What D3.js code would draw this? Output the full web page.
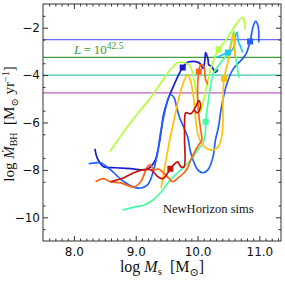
<!DOCTYPE html>
<html>
<head>
<meta charset="utf-8">
<script src="https://cdn.jsdelivr.net/npm/d3@7"></script>
<style>
  body { margin: 0; background: #fff; }
  svg { display: block; }
  .tick text { font-family: "DejaVu Sans", sans-serif; font-size: 12px; fill: #111; }
  .tick line { stroke: #333; }
  .serif { font-family: "Liberation Serif", "DejaVu Serif", serif; fill: #111; }
</style>
</head>
<body>
<div id="container"></div>
<script>
const width = 285;
const height = 282;

// tick values
const xTicks = [8, 9, 10, 11];
const yTicks = [-10, -8, -6, -4, -2];

// luminosity reference lines (log Mdot)
const lumLevels = [-2.5, -3.25, -4.0, -4.75];
const lumColors = ["#6b6bf2", "#3f9f3f", "#45c7b8", "#c45ec4"];

// tracks
const darkBlueX = [8.34, 8.37, 8.42, 8.48, 8.68, 8.92, 9.16, 9.24, 9.32, 9.37, 9.41, 9.45, 9.52, 9.60, 9.68, 9.76, 9.83, 9.89, 9.97, 10.04, 10.09, 10.12, 10.13, 10.17, 10.18, 10.23, 10.26, 10.29, 10.33];
const darkBlueY = [-7.11, -7.45, -7.70, -7.87, -7.91, -7.95, -7.99, -7.87, -7.57, -7.03, -6.39, -5.67, -5.04, -4.53, -4.06, -3.68, -3.47, -3.43, -3.43, -3.51, -3.72, -3.34, -3.05, -3.34, -3.56, -3.64, -3.77, -3.89, -3.77];

const blueX = [8.24, 8.35, 8.43, 8.59, 8.81, 9.03, 9.19, 9.29, 9.36, 9.41, 9.47, 9.53, 9.56, 9.62, 9.66, 9.71, 9.76, 9.84, 9.89, 10.00, 10.09, 10.17, 10.25, 10.29, 10.34, 10.38, 10.46, 10.57, 10.67, 10.78, 10.85, 10.90, 10.94, 10.98, 10.99];
const blueY = [-7.74, -7.70, -7.70, -7.99, -8.50, -8.77, -8.63, -7.99, -7.16, -6.31, -5.55, -4.95, -4.83, -4.95, -5.33, -5.80, -6.10, -6.61, -7.28, -7.99, -8.12, -7.99, -7.45, -6.73, -6.18, -5.46, -4.49, -3.77, -3.47, -3.13, -2.58, -1.94, -1.73, -1.94, -2.62];

const cyanX = [10.30, 10.38, 10.49, 10.54, 10.59, 10.62, 10.64, 10.66, 10.70, 10.73];
const cyanY = [-3.26, -3.17, -3.05, -3.00, -2.79, -2.28, -2.20, -2.58, -2.83, -3.05];

const mintX = [8.79, 8.97, 9.13, 9.28, 9.41, 9.56, 9.73, 9.89, 10.00, 10.09, 10.13, 10.13, 10.17, 10.22, 10.26, 10.33, 10.41, 10.49, 10.57, 10.59, 10.60, 10.65, 10.67];
const mintY = [-9.70, -9.57, -9.49, -9.27, -8.93, -8.42, -8.00, -7.58, -7.16, -6.86, -6.31, -5.97, -5.17, -4.32, -3.89, -3.64, -3.34, -3.13, -2.28, -2.16, -2.92, -3.77, -4.11];

const limeX = [8.58, 8.76, 8.95, 9.24, 9.41, 9.56, 9.68, 9.78, 9.86, 9.92, 9.95, 10.00, 10.02, 10.05, 10.10, 10.17, 10.25, 10.34, 10.43, 10.54, 10.62, 10.73, 10.75, 10.77];
const limeY = [-7.24, -6.56, -5.89, -4.95, -4.32, -3.77, -3.47, -3.47, -3.56, -3.89, -4.32, -4.91, -5.33, -5.55, -5.04, -4.19, -3.43, -2.92, -2.62, -2.20, -1.86, -1.56, -1.65, -2.07];

const goldX = [9.41, 9.49, 9.56, 9.62, 9.68, 9.76, 9.84, 9.89, 9.94, 9.97, 10.02, 10.13, 10.25, 10.33, 10.38, 10.41, 10.41, 10.43, 10.49, 10.54, 10.59, 10.60, 10.60];
const goldY = [-8.77, -7.58, -6.61, -5.89, -5.17, -4.40, -3.98, -4.28, -5.04, -5.89, -6.61, -7.07, -7.16, -7.03, -6.73, -6.10, -5.25, -4.15, -3.47, -2.79, -2.20, -2.71, -3.22];

const orangeX = [8.35, 8.48, 8.59, 8.76, 8.97, 9.08, 9.19, 9.24, 9.29, 9.37, 9.45, 9.53, 9.60, 9.68, 9.78, 9.84, 9.89, 9.97, 10.02, 10.07, 10.05, 10.02, 10.00, 10.02, 10.05, 10.10, 10.13, 10.17];
const orangeY = [-8.50, -8.37, -8.50, -8.55, -8.72, -8.50, -7.87, -7.79, -8.00, -7.96, -8.13, -8.34, -8.50, -8.34, -8.13, -7.91, -7.58, -7.16, -6.94, -6.73, -6.31, -5.67, -4.83, -3.85, -3.56, -3.64, -4.19, -4.40];

const redX = [8.59, 8.81, 8.97, 9.13, 9.24, 9.36, 9.44, 9.52, 9.56, 9.65, 9.68, 9.73, 9.78, 9.79, 9.79, 9.81, 9.89, 9.97, 10.02, 10.05, 10.00, 9.94];
const redY = [-8.50, -8.33, -8.12, -7.99, -7.99, -8.29, -8.37, -8.12, -7.95, -7.70, -7.66, -7.87, -7.87, -6.73, -6.10, -5.59, -5.63, -5.33, -5.08, -5.29, -5.59, -5.46];

// square markers, one per track (same order as the tracks below)
const markerX = [9.76, 10.85, 10.49, 10.13, 10.34, 10.43, 10.02, 9.56];
const markerY = [-3.68, -2.58, -3.05, -5.97, -2.92, -4.15, -3.85, -7.95];

const trackColors = ["#1a1ad2", "#2160ff", "#1ec4ff", "#44ffa2", "#b2ff3a", "#ffc107", "#ff6414", "#c4140e"];
const tracks = [
  [darkBlueX, darkBlueY], [blueX, blueY], [cyanX, cyanY], [mintX, mintY],
  [limeX, limeY], [goldX, goldY], [orangeX, orangeY], [redX, redY]
].map(([xs, ys], i) => ({ pts: xs.map((v, j) => [v, ys[j]]), color: trackColors[i], mx: markerX[i], my: markerY[i] }));

const plotLeft = 43, plotRight = 281, plotTop = 4, plotBottom = 241;

const x = d3.scaleLinear().domain([7.5, 11.35]).range([plotLeft, plotRight]);
const y = d3.scaleLinear().domain([-11, -1]).range([plotBottom, plotTop]);

const svg = d3.select("#container")
  .append("svg")
  .attr("width", width)
  .attr("height", height);

svg.append("clipPath").attr("id", "clip")
  .append("rect")
  .attr("x", plotLeft).attr("y", plotTop)
  .attr("width", plotRight - plotLeft).attr("height", plotBottom - plotTop);

const plot = svg.append("g").attr("clip-path", "url(#clip)");

// horizontal luminosity lines
plot.selectAll("line.lum")
  .data(lumLevels)
  .enter()
  .append("line")
  .attr("class", "lum")
  .attr("x1", plotLeft).attr("x2", plotRight)
  .attr("y1", d => y(d)).attr("y2", d => y(d))
  .attr("stroke", (d, i) => lumColors[i])
  .attr("stroke-width", 1.3);

const line = d3.line()
  .x(d => x(d[0]))
  .y(d => y(d[1]))
  .curve(d3.curveCatmullRom.alpha(0.5));

plot.selectAll("path.track")
  .data(tracks)
  .enter()
  .append("path")
  .attr("class", "track")
  .attr("d", d => line(d.pts))
  .attr("fill", "none")
  .attr("stroke", d => d.color)
  .attr("stroke-width", 1.7)
  .attr("stroke-linejoin", "round");

plot.selectAll("rect.mark")
  .data(tracks)
  .enter()
  .append("rect")
  .attr("class", "mark")
  .attr("x", d => x(d.mx) - 3)
  .attr("y", d => y(d.my) - 3)
  .attr("width", 6)
  .attr("height", 6)
  .attr("fill", d => d.color);

// axes: ticks point inward
const xMinor = d3.range(76, 114).map(v => v / 10).filter(v => v % 1 !== 0);
const yMinor = d3.range(-21, -1).map(v => v / 2).filter(v => v % 1 !== 0);

function styleAxis(g) {
  g.select(".domain").remove();
}

svg.append("g")
  .attr("transform", `translate(0,${plotBottom})`)
  .call(d3.axisBottom(x).tickValues(xTicks).tickSize(-5).tickPadding(6).tickFormat(d3.format(".1f")))
  .call(styleAxis);
svg.append("g")
  .attr("transform", `translate(0,${plotBottom})`)
  .call(d3.axisBottom(x).tickValues(xMinor).tickSize(-2.5).tickFormat(""))
  .call(styleAxis);
svg.append("g")
  .attr("transform", `translate(0,${plotTop})`)
  .call(d3.axisTop(x).tickValues(xTicks).tickSize(-5).tickFormat(""))
  .call(styleAxis);
svg.append("g")
  .attr("transform", `translate(0,${plotTop})`)
  .call(d3.axisTop(x).tickValues(xMinor).tickSize(-2.5).tickFormat(""))
  .call(styleAxis);

svg.append("g")
  .attr("transform", `translate(${plotLeft},0)`)
  .call(d3.axisLeft(y).tickValues(yTicks).tickSize(-5).tickPadding(3).tickFormat(d3.format("d")))
  .call(styleAxis);
svg.append("g")
  .attr("transform", `translate(${plotLeft},0)`)
  .call(d3.axisLeft(y).tickValues(yMinor).tickSize(-2.5).tickFormat(""))
  .call(styleAxis);
svg.append("g")
  .attr("transform", `translate(${plotRight},0)`)
  .call(d3.axisRight(y).tickValues(yTicks).tickSize(-5).tickFormat(""))
  .call(styleAxis);
svg.append("g")
  .attr("transform", `translate(${plotRight},0)`)
  .call(d3.axisRight(y).tickValues(yMinor).tickSize(-2.5).tickFormat(""))
  .call(styleAxis);

svg.append("rect")
  .attr("x", plotLeft).attr("y", plotTop)
  .attr("width", plotRight - plotLeft).attr("height", plotBottom - plotTop)
  .attr("fill", "none")
  .attr("stroke", "#333")
  .attr("stroke-width", 1);

// labels
const lumLabel = svg.append("text")
  .attr("class", "serif")
  .attr("x", 74).attr("y", 54)
  .style("font-size", "13px")
  .style("fill", "#3a9a3a");
lumLabel.append("tspan").style("font-style", "italic").text("L");
lumLabel.append("tspan").text("\u2009=\u200910");
lumLabel.append("tspan").attr("dy", -5).style("font-size", "9.5px").text("42.5");

svg.append("text")
  .attr("class", "serif")
  .attr("x", 163).attr("y", 213)
  .style("font-size", "12.5px")
  .text("NewHorizon sims");

const xl = svg.append("text")
  .attr("class", "serif")
  .attr("x", 162).attr("y", 272)
  .attr("text-anchor", "middle")
  .style("font-size", "16px");
xl.append("tspan").text("log ");
xl.append("tspan").style("font-style", "italic").text("M");
xl.append("tspan").attr("dy", 3).style("font-size", "11px").text("s");
xl.append("tspan").attr("dy", -3).text("\u2002[M");
xl.append("tspan").attr("dy", 4).style("font-size", "11px").text("\u2299");
xl.append("tspan").attr("dy", -4).text("]");

const yl = svg.append("text")
  .attr("class", "serif")
  .attr("transform", "translate(14,124) rotate(-90)")
  .attr("text-anchor", "middle")
  .style("font-size", "15px");
yl.append("tspan").text("log ");
yl.append("tspan").style("font-style", "italic").text("\u1E40");
yl.append("tspan").attr("dy", 3).style("font-size", "10px").text("BH");
yl.append("tspan").attr("dy", -3).text("\u2002[M");
yl.append("tspan").attr("dy", 4).style("font-size", "10px").text("\u2299");
yl.append("tspan").attr("dy", -4).text(" yr");
yl.append("tspan").attr("dy", -5).style("font-size", "10px").text("\u22121");
yl.append("tspan").attr("dy", 5).text("]");
</script>
</body>
</html>
